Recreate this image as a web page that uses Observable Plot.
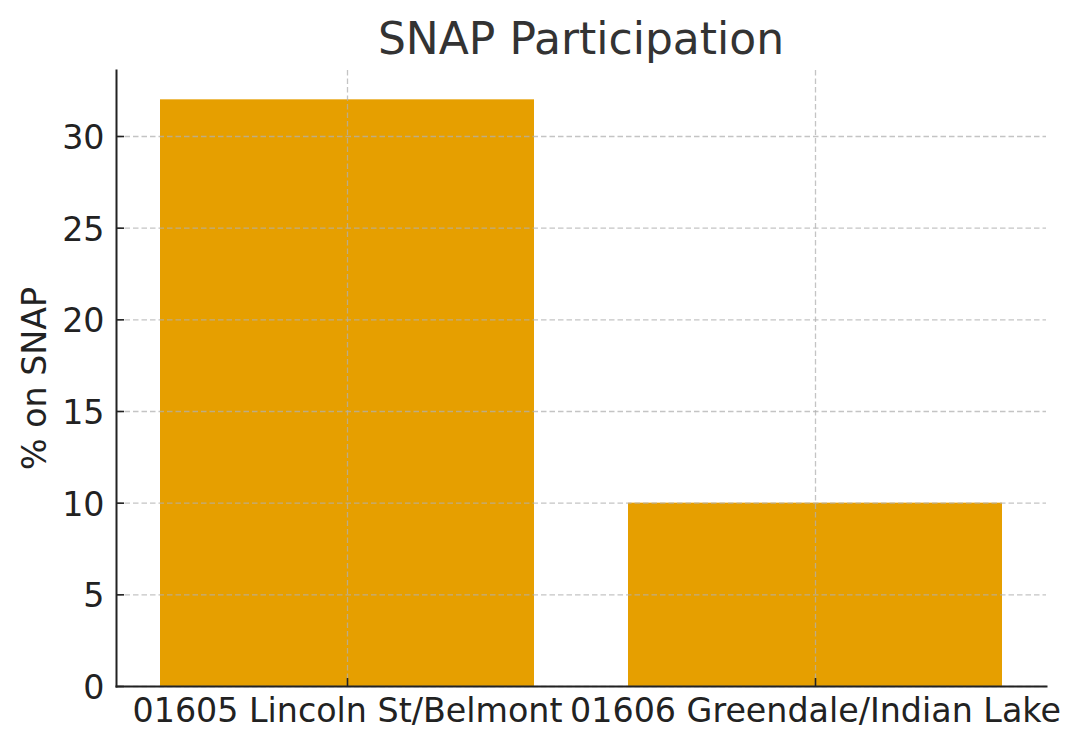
<!DOCTYPE html>
<html>
<head>
<meta charset="utf-8">
<script src="https://cdn.jsdelivr.net/npm/d3@7"></script>
<script src="https://cdn.jsdelivr.net/npm/@observablehq/plot@0.6"></script>
<style>
  html, body { margin: 0; padding: 0; background: white; }
  #title {
    height: 60px; line-height: 77px; overflow: visible;
    margin-left: 116px; width: 930px; text-align: center;
    font-family: "DejaVu Sans", sans-serif; font-size: 44px; color: #333;
    white-space: nowrap;
  }
  #chart svg { display: block; }
</style>
</head>
<body>
<div id="title">SNAP Participation</div>
<div id="chart"></div>
<script>
const categories = ["01605 Lincoln St/Belmont", "01606 Greendale/Indian Lake"];
const snapPct = [32, 10];
const yTicks = [0, 5, 10, 15, 20, 25, 30];
const yLabel = "% on SNAP";

const data = categories.map((c, i) => ({cat: c, pct: snapPct[i]}));
const gridStyle = {stroke: "#b0b0b0", strokeOpacity: 0.75, strokeDasharray: "5.5,3", strokeWidth: 1.3};
const ink = "#222";

const chart = Plot.plot({
  width: 1081,
  height: 689,
  marginTop: 10,
  marginBottom: 63,
  marginLeft: 116,
  marginRight: 35,
  style: {fontFamily: "DejaVu Sans, sans-serif", fontSize: "33.3px", color: ink, background: "white"},
  x: {domain: categories, paddingInner: 0.2, paddingOuter: 0.0917, align: 0.5, label: null},
  y: {domain: [0, 33.6], label: null},
  marks: [
    Plot.barY(data, {x: "cat", y: "pct", fill: "#E69F00"}),
    Plot.gridY(yTicks, gridStyle),
    Plot.gridX(categories, gridStyle),
    Plot.axisY(yTicks, {tickSize: 0, tickPadding: 12, label: null, dy: 2}),
    Plot.axisY(yTicks, {tickSize: -8, text: null, label: null, stroke: ink, strokeWidth: 1.6}),
    Plot.axisX(categories, {tickSize: 0, tickPadding: 12, label: null}),
    Plot.axisX(categories, {tickSize: -8, text: null, label: null, stroke: ink, strokeWidth: 1.6}),
    Plot.frame({anchor: "left", stroke: ink, strokeWidth: 2}),
    Plot.frame({anchor: "bottom", stroke: ink, strokeWidth: 2}),
    Plot.text([yLabel], {frameAnchor: "left", textAnchor: "middle", lineAnchor: "middle", dx: -81, rotate: -90, fontSize: 33.3, fill: ink})
  ]
});
document.getElementById("chart").appendChild(chart);
</script>
</body>
</html>
